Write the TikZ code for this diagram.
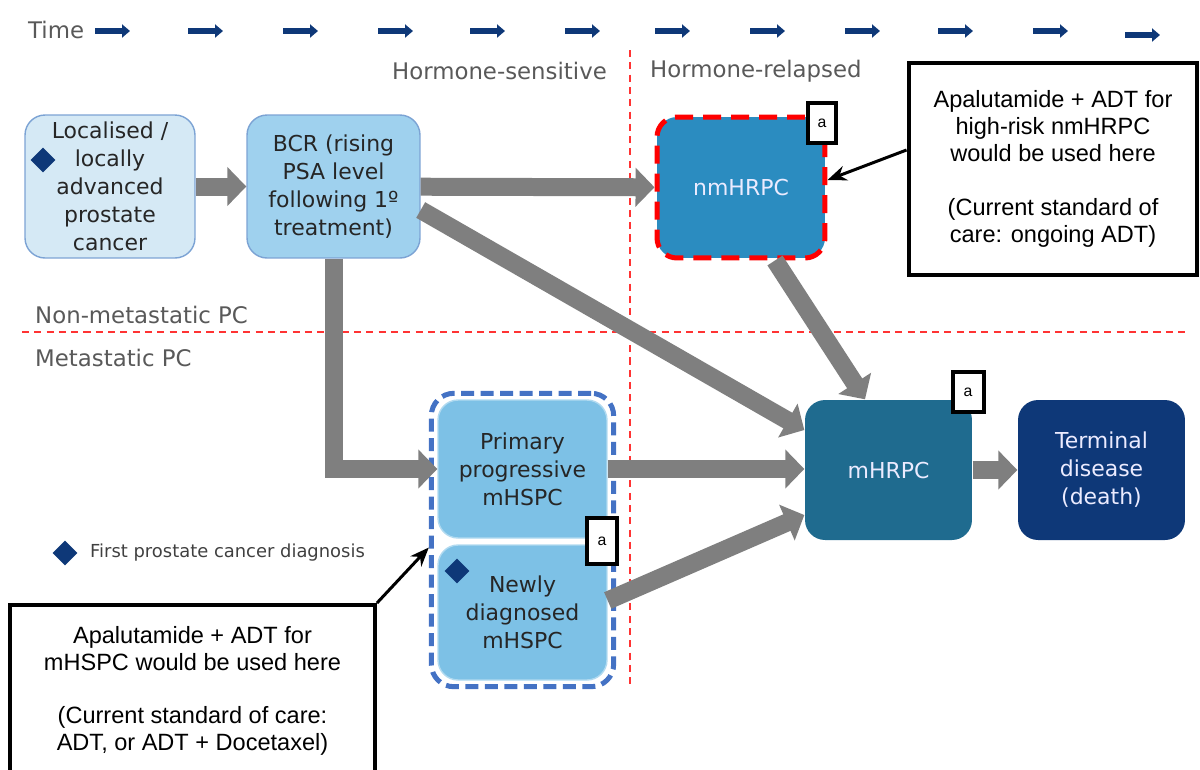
\documentclass[tikz,border=0pt]{standalone}
\usepackage{fontspec}
\setmainfont{DejaVu Sans}
\newfontfamily\notefont{Liberation Sans}
\usetikzlibrary{arrows.meta,shapes.geometric,fit}
\definecolor{flowgray}{HTML}{7F7F7F}
\definecolor{labelgray}{HTML}{595959}
\definecolor{navy}{HTML}{0E3878}
\definecolor{locfill}{HTML}{D5E9F5}
\definecolor{bcrfill}{HTML}{9FD1EE}
\definecolor{hspcfill}{HTML}{7DC1E6}
\definecolor{nmfill}{HTML}{2B8CC0}
\definecolor{mfill}{HTML}{1F6B8F}
\definecolor{edgeblue}{HTML}{7CA3D4}
\definecolor{hspcblue}{HTML}{4472C4}
\definecolor{divred}{HTML}{FF3333}
\begin{document}
\begin{tikzpicture}[x=0.02cm, y=-0.02cm,
  stage node/.style={rectangle, rounded corners=0.4cm, draw=edgeblue, line width=0.8pt, align=center, inner sep=2pt, text=black!85, font=\fontsize{12.5}{15.9}\selectfont},
  dark node/.style={stage node, draw=none, text=white!92!blue},
  flow/.style={draw=flowgray, line width=0.36cm, -{Triangle[length=0.38cm,width=0.76cm]}},
  tick arrow/.style={draw=navy, line width=0.12cm, -{Triangle[length=0.16cm,width=0.26cm]}},
  divider/.style={draw=divred, line width=1.2pt, dash pattern=on 4pt off 3pt},
  side label/.style={text=labelgray, font=\fontsize{13}{15}\selectfont},
  diam/.style={diamond, fill=navy, minimum size=0.5cm, inner sep=0pt},
  tag node/.style={rectangle, draw=black, fill=white, line width=0.08cm, font=\notefont\fontsize{9}{10}\selectfont},
  note node/.style={rectangle, draw=black, fill=white, line width=0.08cm, align=center, font=\notefont\fontsize{13.4}{15.3}\selectfont},
  note arrow/.style={draw=black, line width=0.06cm, -{Stealth[length=0.38cm,width=0.3cm]}}]
\useasboundingbox (0,0) rectangle (1200,769);
% time line
\node[side label, anchor=west] (time) at (22,30) {Time};
\foreach \x in {95,188,283,378,470,565,655,750,845,938,1033}
  \draw[tick arrow] (\x,31) -- ++(35,0);
\draw[tick arrow] (1125,35) -- ++(35,0);
% dividers
\draw[divider] (630,50) -- (630,685);
\draw[divider] (22,332) -- (1190,332);
\node[side label, anchor=east] (hs) at (613,71) {Hormone-sensitive};
\node[side label, anchor=west] (hr) at (644,71) {Hormone-relapsed};
\node[side label, anchor=west] (nonmet) at (29,315) {Non-metastatic PC};
\node[side label, anchor=west] (met) at (29,358) {Metastatic PC};
% stages
\begin{scope}
\node[stage node, fill=locfill, minimum width=3.4cm, minimum height=2.86cm] (loc) at (110,186.5) {Localised /\\locally\\advanced\\prostate\\cancer};
\node[stage node, fill=bcrfill, minimum width=3.46cm, minimum height=2.86cm] (bcr) at (333.5,186.5) {BCR (rising\\PSA level\\following 1º\\treatment)};
\node[dark node, fill=nmfill, draw=red, line width=0.1cm, dash pattern=on 0.36cm off 0.2cm, minimum width=3.36cm, minimum height=2.82cm] (nmhrpc) at (741,187.5) {nmHRPC};
\node[stage node, fill=hspcfill, draw=hspcfill!60!white, minimum width=3.38cm, minimum height=2.76cm] (prim) at (522.5,469) {Primary\\progressive\\mHSPC};
\node[stage node, fill=hspcfill, draw=hspcfill!60!white, minimum width=3.38cm, minimum height=2.7cm] (newly) at (522.5,612.5) {Newly\\diagnosed\\mHSPC};
\node[fit=(prim)(newly), inner sep=0.12cm, draw=hspcblue, line width=0.1cm, dash pattern=on 0.26cm off 0.13cm, rounded corners=0.45cm] (hspc) {};
\node[dark node, fill=mfill, minimum width=3.34cm, minimum height=2.8cm] (mhrpc) at (888.5,470) {mHRPC};
\node[dark node, fill=navy, minimum width=3.34cm, minimum height=2.8cm] (term) at (1101.5,470) {Terminal\\disease\\(death)};
\end{scope}
\node[diam] (locdiam) at (43,160) {};
\node[diam] (newdiam) at (457,571) {};
% flows
\begin{scope}
\draw[flow] (loc) -- (bcr);
\draw[flow] (bcr) -- (nmhrpc);
\draw[flow] ([yshift=-0.47cm]bcr.east) -- ([yshift=0.8cm]mhrpc.west);
\draw[flow] (bcr.south) |- (prim.west);
\draw[flow] ([xshift=0.68cm]nmhrpc.south) -- ([xshift=-0.47cm]mhrpc.north);
\draw[flow] (prim.east) -- (mhrpc.west |- prim.east);
\draw[flow] ([yshift=0.24cm]newly.east) -- ([yshift=-0.9cm]mhrpc.west);
\draw[flow] (mhrpc) -- (term);
\end{scope}
% tags
\node[tag node, minimum width=0.56cm, minimum height=0.8cm] (tagnm) at (822,123) {a};
\node[tag node, minimum width=0.62cm, minimum height=0.8cm] (tagm) at (968,392) {a};
\node[tag node, minimum width=0.6cm, minimum height=0.92cm] (tagprim) at (602,541) {a};
% legend
\node[diam] (legdiam) at (65,553) {};
\node[anchor=west, text=black!75, font=\fontsize{10.2}{12}\selectfont] (legtext) at (84,553) {First prostate cancer diagnosis};
% notes
\node[note node, minimum width=5.78cm, minimum height=4.24cm] (note1) at (1053,169) {Apalutamide + ADT for\\high-risk nmHRPC\\would be used here\\[15.3pt](Current standard of\\care: ongoing ADT)};
\node[note node, minimum width=7.3cm, minimum height=3.44cm, anchor=north] (note2) at (192.5,603) {Apalutamide + ADT for\\mHSPC would be used here\\[15.3pt](Current standard of care:\\ADT, or ADT + Docetaxel)};
\draw[note arrow] ([yshift=0.38cm]note1.west) -- ([yshift=0.15cm]nmhrpc.east);
\draw[note arrow] (note2.north east) -- ([yshift=-0.15cm]hspc.west);
\end{tikzpicture}
\end{document}
